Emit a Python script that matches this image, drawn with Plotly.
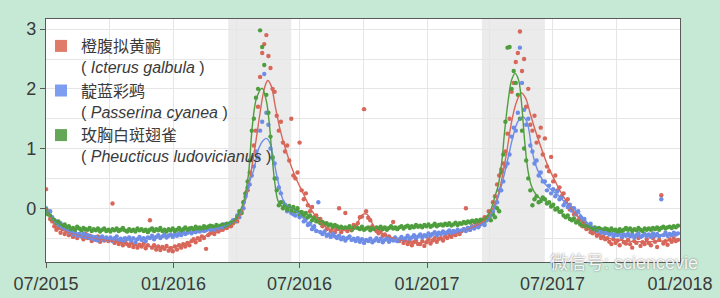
import pandas as pd
import plotly.graph_objects as go

START = "2015-07-01"
DOT_STEP_DAYS = 3

SPECIES_CN = ["橙腹拟黄鹂", "靛蓝彩鹀", "玫胸白斑翅雀"]
SPECIES_LATIN = ["Icterus galbula", "Passerina cyanea", "Pheucticus ludovicianus"]

RED_DOTS = [
    0.32, -0.05, -0.18, -0.22, -0.3, -0.36, -0.33, -0.41, -0.35, -0.43,
    -0.38, -0.45, -0.41, -0.48, -0.4, -0.5, -0.44, -0.47, -0.52, -0.42,
    -0.5, -0.46, -0.55, -0.49, -0.53, -0.47, -0.56, -0.5, -0.54, -0.51,
    -0.55, -0.52, 0.08, -0.58, -0.54, -0.6, -0.56, -0.62, -0.57, -0.6,
    -0.63, -0.58, -0.65, -0.6, -0.66, -0.61, -0.64, -0.59, -0.67, -0.62,
    -0.2, -0.66, -0.62, -0.69, -0.64, -0.7, -0.65, -0.68, -0.63, -0.71,
    -0.67, -0.72, -0.64, -0.69, -0.62, -0.66, -0.6, -0.64, -0.58, -0.62,
    -0.55, -0.52, -0.57, -0.5, -0.53, -0.47, -0.5, -0.68, -0.45, -0.42,
    -0.4, -0.43, -0.37, -0.39, -0.34, -0.36, -0.31, -0.33, -0.28, -0.3,
    -0.25, -0.2, -0.22, -0.1, -0.08, 0.1, 0.25, 0.3, 0.6, 0.85,
    1.05, 1.3, 1.7, 2.2, 2.6, 2.75, 2.9, 2.55, 2.35, 2.0,
    1.95, 1.55, 1.3, 1.45, 1.1, 0.95, 1.05, 0.8, 1.5, 0.55,
    0.5, 0.6, 1.1, 0.3, 0.15, 0.25, 0.05, -0.05, 0.02, -0.15,
    -0.12, -0.22, -0.18, -0.3, -0.26, -0.35, -0.28, -0.38, -0.32, -0.4,
    -0.35, 0.0, -0.4, -0.34, -0.08, -0.38, -0.33, -0.37, -0.28, -0.3,
    -0.25, -0.15, -0.14, 1.66, -0.05, -0.16, -0.2, -0.3, -0.35, -0.38,
    -0.42, -0.39, -0.46, -0.44, -0.5, -0.47, -0.52, -0.23, -0.5, -0.55,
    -0.55, -0.5, -0.58, -0.54, -0.6, -0.56, -0.62, -0.57, -0.54, -0.6,
    -0.6, -0.55, -0.63, -0.57, -0.52, -0.59, -0.54, -0.5, -0.56, -0.51,
    -0.5, -0.54, -0.47, -0.5, -0.44, -0.48, -0.42, -0.45, -0.39, -0.43,
    -0.38, -0.35, 0.0, -0.33, -0.36, -0.3, -0.32, -0.27, -0.3, -0.24,
    -0.2, -0.15, -0.18, -0.05, -0.1, 0.1, 0.2, 0.4, 0.55, 0.65,
    0.75, 0.95, 1.25, 1.5, 1.95, 2.1, 2.45, 2.6, 2.96, 2.3,
    2.5, 1.7, 2.0, 1.4, 1.3, 1.55, 1.1, 1.2, 1.35, 0.9,
    1.17, 0.7, 0.62, 0.86, 0.45, 0.55, 0.3, 0.35, 0.2, 0.25,
    0.1, 0.15, -0.02, 0.0, -0.1, -0.08, -0.2, -0.15, -0.3, -0.25,
    -0.35, -0.3, -0.4, -0.42, -0.38, -0.46, -0.44, -0.5, -0.47, -0.52,
    -0.5, -0.56, -0.6, -0.52, -0.58, -0.54, -0.62, -0.5, -0.57, -0.59,
    -0.53, -0.6, -0.66, -0.55, -0.58, -0.5, -0.63, -0.57, -0.6, -0.52,
    -0.58, -0.62, -0.5, -0.56, -0.65, -0.53, 0.22, -0.59, -0.55, -0.61,
    -0.52, -0.56, -0.5, -0.55, -0.53,
]

BLUE_DOTS = [
    0.0, -0.08, -0.05, -0.15, -0.2, -0.22, -0.28, -0.25, -0.33, -0.3,
    -0.36, -0.4, -0.38, -0.44, -0.41, -0.46, -0.43, -0.47, -0.42, -0.48,
    -0.45, -0.5, -0.47, -0.52, -0.48, -0.54, -0.5, -0.47, -0.53, -0.49,
    -0.53, -0.49, -0.55, -0.5, -0.47, -0.54, -0.51, -0.56, -0.5, -0.52,
    -0.49, -0.54, -0.5, -0.57, -0.52, -0.48, -0.53, -0.5, -0.55, -0.49,
    -0.5, -0.46, -0.52, -0.48, -0.45, -0.5, -0.47, -0.44, -0.49, -0.46,
    -0.44, -0.48, -0.43, -0.46, -0.42, -0.45, -0.4, -0.43, -0.41, -0.38,
    -0.42, -0.38, -0.4, -0.36, -0.39, -0.35, -0.38, -0.37, -0.33, -0.36,
    -0.34, -0.36, -0.31, -0.33, -0.29, -0.32, -0.27, -0.3, -0.26, -0.24,
    -0.2, -0.22, -0.12, -0.15, -0.05, 0.0, 0.2, 0.35, 0.4, 0.55,
    0.7, 0.95, 0.85, 1.3, 1.45, 2.25, 1.6, 1.4, 1.0, 0.85,
    0.75, 0.5, 0.35, 0.25, 0.1, 0.05, -0.05, 0.02, -0.08, -0.1,
    -0.12, -0.05, -0.15, -0.1, -0.22, -0.18, -0.28, -0.25, -0.35, -0.3,
    -0.38, 0.1, -0.4, -0.43, -0.39, -0.46, -0.44, -0.48, -0.43, -0.47,
    -0.5, -0.46, -0.52, -0.49, -0.54, -0.5, -0.47, -0.53, -0.51, -0.55,
    -0.5, -0.56, -0.52, -0.58, -0.53, -0.55, -0.51, -0.57, -0.54, -0.5,
    -0.55, -0.51, -0.57, -0.53, -0.5, -0.56, -0.52, -0.54, -0.49, -0.55,
    -0.52, -0.48, -0.53, -0.5, -0.46, -0.51, -0.49, -0.45, -0.5, -0.47,
    -0.44, -0.49, -0.45, -0.47, -0.42, -0.46, -0.43, -0.4, -0.45, -0.41,
    -0.43, -0.39, -0.42, -0.4, -0.37, -0.41, -0.38, -0.4, -0.36, -0.39,
    -0.37, -0.35, -0.38, -0.33, -0.36, -0.31, -0.34, -0.3, -0.32, -0.27,
    -0.25, -0.28, -0.2, -0.18, -0.12, -0.05, 0.02, 0.1, 0.3, 0.3,
    0.45, 0.7, 0.75, 0.9, 1.2, 1.35, 1.3, 1.6, 2.69, 2.1,
    1.65, 1.4, 1.5, 1.05, 0.95, 0.75, 0.8, 0.55, 0.6, 0.45,
    0.45, 0.3, 0.38, 0.25, 0.32, 0.2, 0.28, 0.15, 0.18, 0.05,
    0.1, 0.02, 0.06, -0.04, 0.0, -0.1, -0.05, -0.15, -0.2, -0.18,
    -0.27, -0.3, -0.26, -0.36, -0.33, -0.38, -0.35, -0.41, -0.37, -0.42,
    -0.4, -0.44, -0.42, -0.47, -0.43, -0.45, -0.41, -0.48, -0.44, -0.46,
    -0.43, -0.47, -0.44, -0.49, -0.45, -0.42, -0.48, -0.46, -0.43, -0.47,
    -0.44, -0.48, -0.42, -0.46, -0.43, -0.47, 0.15, -0.45, -0.41, -0.46,
    -0.43, -0.45, -0.41, -0.44, -0.42,
]

GREEN_DOTS = [
    -0.02, -0.1, -0.12, -0.18, -0.2, -0.25, -0.22, -0.28, -0.3, -0.27,
    -0.32, -0.3, -0.35, -0.33, -0.36, -0.31, -0.34, -0.37, -0.33, -0.35,
    -0.36, -0.33, -0.38, -0.35, -0.37, -0.34, -0.39, -0.36, -0.34, -0.38,
    -0.36, -0.39, -0.35, -0.37, -0.34, -0.38, -0.36, -0.33, -0.37, -0.39,
    -0.35, -0.38, -0.36, -0.39, -0.34, -0.37, -0.35, -0.38, -0.36, -0.4,
    -0.36, -0.34, -0.38, -0.35, -0.37, -0.33, -0.38, -0.36, -0.39, -0.35,
    -0.37, -0.34, -0.38, -0.36, -0.33, -0.37, -0.35, -0.32, -0.36, -0.34,
    -0.33, -0.35, -0.31, -0.34, -0.32, -0.35, -0.3, -0.33, -0.31, -0.29,
    -0.3, -0.32, -0.28, -0.31, -0.29, -0.27, -0.3, -0.26, -0.28, -0.24,
    -0.24, -0.2, -0.15, -0.05, -0.08, 0.1, 0.25, 0.45, 0.8, 1.3,
    1.5, 1.85, 2.0, 2.98, 2.7, 2.4, 1.9, 1.6, 1.2, 0.85,
    0.5, 0.3, 0.05, 0.1, 0.0, 0.05, -0.02, 0.04, -0.04, 0.02,
    -0.05, 0.0, -0.1, -0.06, -0.12, -0.08, -0.15, -0.12, -0.2, -0.16,
    -0.22, -0.18, -0.25, -0.23, -0.27, -0.25, -0.29, -0.27, -0.31, -0.28,
    -0.3, -0.33, -0.31, -0.35, -0.32, -0.34, -0.3, -0.36, -0.33, -0.31,
    -0.33, -0.35, -0.31, -0.36, -0.34, -0.32, -0.37, -0.33, -0.35, -0.32,
    -0.34, -0.31, -0.35, -0.32, -0.36, -0.33, -0.3, -0.34, -0.32, -0.35,
    -0.32, -0.3, -0.34, -0.31, -0.29, -0.33, -0.3, -0.32, -0.28, -0.31,
    -0.29, -0.32, -0.28, -0.3, -0.27, -0.31, -0.29, -0.26, -0.3, -0.28,
    -0.27, -0.29, -0.26, -0.28, -0.25, -0.29, -0.27, -0.24, -0.28, -0.25,
    -0.26, -0.23, -0.25, -0.22, -0.24, -0.21, -0.23, -0.2, -0.22, -0.19,
    -0.2, -0.22, -0.16, -0.14, -0.2, -0.1, -0.15, 0.0, -0.05, 0.6,
    0.9, 1.45, 2.69, 2.7, 2.0, 2.3, 2.1, 1.9, 1.5, 1.3,
    1.0, 0.8, 0.5, 0.3, 0.05, 0.15, 0.2, 0.1, 0.12, 0.18,
    0.15, 0.08, 0.1, 0.03, 0.06, -0.02, 0.0, -0.06, -0.05, -0.12,
    -0.15, -0.12, -0.18, -0.2, -0.17, -0.24, -0.22, -0.27, -0.25, -0.3,
    -0.3, -0.33, -0.31, -0.35, -0.32, -0.36, -0.33, -0.35, -0.37, -0.34,
    -0.35, -0.38, -0.34, -0.37, -0.36, -0.39, -0.35, -0.38, -0.36, -0.33,
    -0.36, -0.34, -0.38, -0.35, -0.37, -0.33, -0.36, -0.38, -0.34, -0.36,
    -0.34, -0.36, -0.33, -0.35, -0.32, -0.36, -0.33, -0.31, -0.34, -0.32,
    -0.31, -0.33, -0.3, -0.32, -0.29,
]

RED_LINE_DAYS = [0, 6, 12, 20, 31, 60, 90, 120, 150, 175, 195, 215, 235, 255, 270,
                 280, 288, 295, 302, 309, 315, 320, 325, 331, 338, 346, 355, 362, 369, 376,
                 383, 392, 400, 410, 425, 440, 447, 453, 458, 463, 468, 475, 490, 510, 530,
                 550, 570, 590, 605, 620, 633, 645, 652, 658, 665, 672, 679, 686, 692, 699,
                 706, 715, 725, 735, 744, 755, 768, 780, 792, 810, 840, 870, 900, 915]
RED_LINE = [0.0, -0.15, -0.27, -0.35, -0.4, -0.48, -0.54, -0.6, -0.64, -0.66, -0.62, -0.53, -0.44, -0.37, -0.27,
            -0.12, 0.15, 0.55, 1.05, 1.6, 2.0, 2.14, 2.05, 1.7, 1.31, 0.98, 0.67, 0.47, 0.3, 0.13,
            -0.03, -0.17, -0.28, -0.35, -0.37, -0.36, -0.3, -0.17, -0.1, -0.1, -0.18, -0.34, -0.45, -0.53, -0.57,
            -0.57, -0.52, -0.44, -0.37, -0.3, -0.2, 0.0, 0.2, 0.5, 0.95, 1.45, 1.78, 1.93, 1.85, 1.58,
            1.31, 1.0, 0.69, 0.45, 0.25, 0.05, -0.15, -0.32, -0.42, -0.5, -0.55, -0.56, -0.54, -0.52]

BLUE_LINE_DAYS = [0, 15, 31, 60, 90, 130, 160, 184, 210, 232, 255, 270, 280, 288, 294,
                  300, 307, 313, 318, 323, 328, 333, 338, 343, 350, 356, 362, 370, 380, 392,
                  405, 420, 440, 463, 490, 511, 535, 559, 585, 607, 625, 637, 646, 653, 660,
                  667, 674, 681, 688, 694, 701, 706, 713, 720, 730, 739, 749, 758, 771, 782,
                  795, 810, 838, 870, 905, 915]
BLUE_LINE = [-0.02, -0.25, -0.38, -0.47, -0.51, -0.51, -0.48, -0.45, -0.4, -0.37, -0.31, -0.22, -0.08, 0.15, 0.45,
             0.65, 1.0, 1.13, 1.17, 1.1, 0.85, 0.55, 0.3, 0.12, 0.03, 0.0, -0.05, -0.15, -0.27, -0.37,
             -0.43, -0.47, -0.51, -0.54, -0.53, -0.51, -0.47, -0.43, -0.4, -0.37, -0.3, -0.2, -0.02, 0.2, 0.5,
             0.85, 1.2, 1.45, 1.53, 1.45, 1.0, 0.75, 0.55, 0.41, 0.3, 0.22, 0.1, 0.02, -0.1, -0.25,
             -0.35, -0.41, -0.45, -0.45, -0.43, -0.42]

GREEN_LINE_DAYS = [0, 12, 25, 39, 87, 136, 184, 232, 260, 272, 280, 286, 292, 298, 304,
                   312, 318, 322, 326, 330, 335, 341, 350, 356, 365, 375, 383, 402, 431, 460,
                   490, 520, 559, 590, 607, 620, 633, 642, 648, 653, 658, 662, 667, 672, 677,
                   682, 686, 691, 696, 701, 708, 715, 722, 735, 749, 765, 778, 800, 838, 870,
                   905, 915]
GREEN_LINE = [-0.02, -0.2, -0.3, -0.34, -0.37, -0.37, -0.37, -0.31, -0.27, -0.2, -0.05, 0.15, 0.55, 1.4, 1.85,
              2.01, 1.8, 1.45, 0.92, 0.45, 0.12, 0.03, 0.02, 0.0, -0.05, -0.1, -0.15, -0.25, -0.33, -0.34,
              -0.33, -0.31, -0.29, -0.27, -0.24, -0.22, -0.18, -0.02, 0.2, 0.4, 0.8, 1.3, 1.8, 2.15, 2.26,
              2.15, 1.8, 1.1, 0.6, 0.36, 0.22, 0.15, 0.12, 0.0, -0.13, -0.22, -0.3, -0.35, -0.37, -0.35,
              -0.31, -0.3]

MIGRATION_START = ["2016-03-20", "2017-03-21"]
MIGRATION_END = ["2016-06-19", "2017-06-20"]

X_RANGE = ["2015-07-01", "2018-01-01"]
Y_RANGE = [-0.9, 3.17]
Y_TICKS = [0, 1, 2, 3]

WATERMARK = "微信号: sciencevie"

DOT_COLORS = ["#d7675a", "#6d8de6", "#4f9e3e"]
LINE_COLORS = ["#d7675a", "#6d8de6", "#4f9e3e"]
SWATCH_COLORS = ["#df7b68", "#7d9df0", "#63a655"]

FONT = "Liberation Sans, Noto Sans CJK SC, sans-serif"
TEXT_COLOR = "#3a3a3a"

W, H = 720, 298
ML, MR, MT, MB = 46, 40, 19, 36
PW, PH = W - ML - MR, H - MT - MB

start = pd.Timestamp(START)


def dot_dates(n):
    return pd.date_range(start, periods=n, freq=f"{DOT_STEP_DAYS}D")


def day_dates(days):
    return start + pd.to_timedelta(days, unit="D")


fig = go.Figure()

for s0, s1 in zip(MIGRATION_START, MIGRATION_END):
    fig.add_vrect(x0=s0, x1=s1, fillcolor="#e4e4e4", opacity=0.75,
                  line_width=0, layer="below")

dots = [RED_DOTS, BLUE_DOTS, GREEN_DOTS]
lines = [(RED_LINE_DAYS, RED_LINE), (BLUE_LINE_DAYS, BLUE_LINE), (GREEN_LINE_DAYS, GREEN_LINE)]

for vals, col in zip(dots, DOT_COLORS):
    fig.add_trace(go.Scatter(x=dot_dates(len(vals)), y=vals, mode="markers",
                             marker=dict(size=4.4, color=col, line_width=0),
                             showlegend=False, hoverinfo="skip"))

for (days, vals), col in zip(lines, LINE_COLORS):
    fig.add_trace(go.Scatter(x=day_dates(days), y=vals, mode="lines",
                             line=dict(color=col, width=1.4, shape="spline", smoothing=1.0),
                             showlegend=False, hoverinfo="skip"))

for cn, la, col in zip(SPECIES_CN, SPECIES_LATIN, SWATCH_COLORS):
    fig.add_trace(go.Scatter(x=[None], y=[None], mode="markers",
                             marker=dict(symbol="square", size=12, color=col),
                             name=f"{cn}<br>( <i>{la}</i> )"))

grid = "#e6e6e6"
axis_line = "#5a5a5a"

fig.update_xaxes(
    type="date", range=X_RANGE, tick0="2015-07-01", dtick="M6", tickformat="%m/%Y",
    ticks="outside", ticklen=5, tickcolor=axis_line, tickwidth=1.2,
    showline=True, linecolor=axis_line, linewidth=1.4, mirror=True,
    showgrid=True, gridcolor=grid, gridwidth=1.3, automargin=False,
    minor=dict(dtick="M3", tick0="2015-07-01", showgrid=True, gridcolor=grid, gridwidth=1.3, ticks=""),
    tickfont=dict(size=18, color=TEXT_COLOR, family=FONT), zeroline=False,
)
fig.update_yaxes(
    range=Y_RANGE, tickvals=Y_TICKS,
    ticks="outside", ticklen=5, tickcolor=axis_line, tickwidth=1.2,
    showline=True, linecolor=axis_line, linewidth=1.4, mirror=True,
    showgrid=True, gridcolor=grid, gridwidth=1.3, automargin=False,
    minor=dict(dtick=0.5, tick0=0, showgrid=True, gridcolor=grid, gridwidth=1.3, ticks=""),
    tickfont=dict(size=18, color=TEXT_COLOR, family=FONT), zeroline=False,
)

fig.add_annotation(text=WATERMARK, xref="paper", yref="paper",
                   x=(548 - ML) / PW, y=-(263 - (MT + PH)) / PH,
                   xanchor="left", yanchor="middle", showarrow=False,
                   font=dict(size=18, color="rgba(255,255,255,0.92)", family=FONT,
                             shadow="0px 0px 2px rgba(90,90,90,0.9)"))

fig.update_layout(
    width=W, height=H,
    margin=dict(l=ML, r=MR, t=MT, b=MB, autoexpand=False),
    paper_bgcolor="#c6e9d5", plot_bgcolor="#ffffff",
    font=dict(family=FONT, color=TEXT_COLOR),
    showlegend=True,
    legend=dict(x=-5 / PW, y=1 - 10 / PH, xanchor="left", yanchor="top",
                bgcolor="rgba(0,0,0,0)", font=dict(size=16, color=TEXT_COLOR, family=FONT),
                valign="top", tracegroupgap=0, itemwidth=30),
)

fig.write_html("out.html")
